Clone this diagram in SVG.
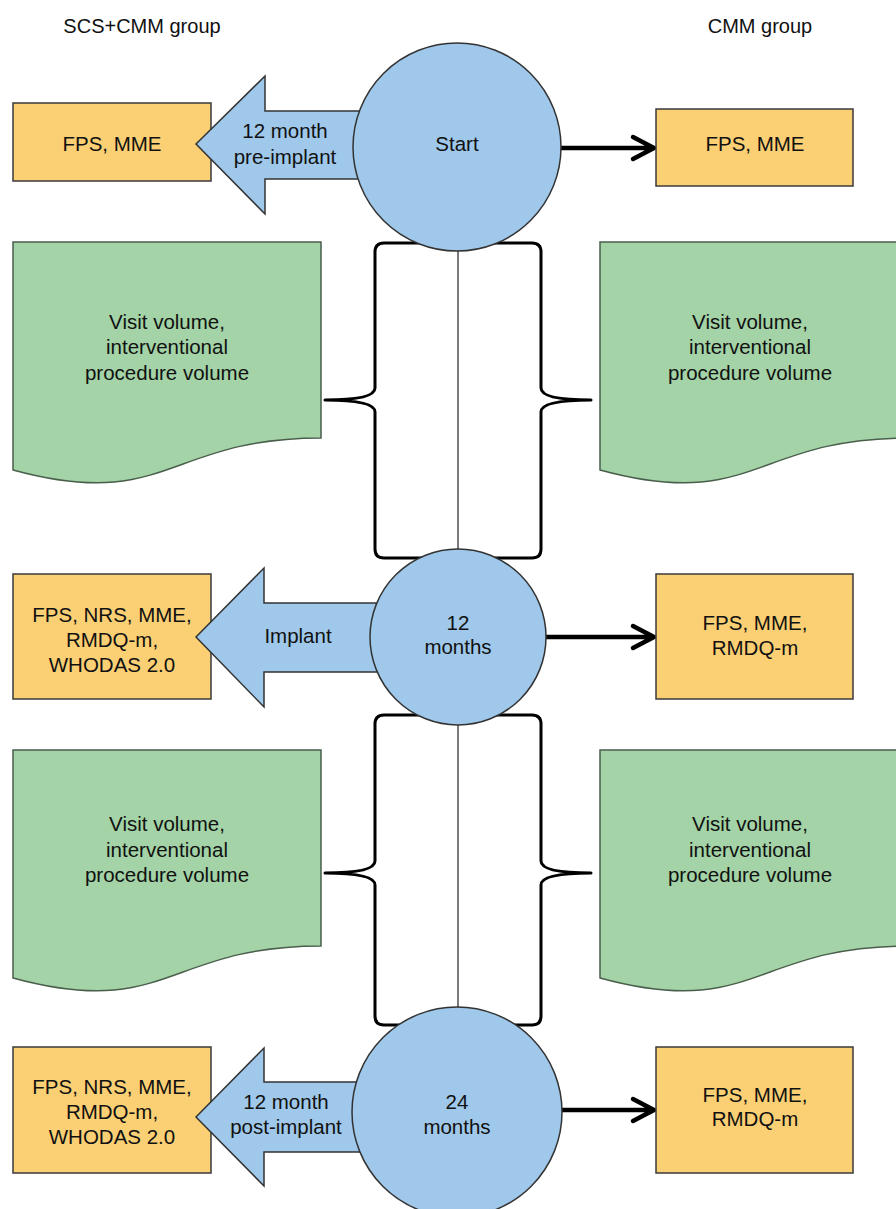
<svg xmlns="http://www.w3.org/2000/svg" width="896" height="1209" viewBox="0 0 896 1209">
<style>
text{font-family:"Liberation Sans",Arial,sans-serif;font-size:20.5px;fill:#111;text-anchor:middle}
.hdr{font-size:20px}
.box{fill:#FBD074;stroke:#3a3a3a;stroke-width:1.5}
.doc{fill:#A3D3A6;stroke:#4a5e4c;stroke-width:1.5}
.blue{fill:#9FC8EA;stroke:#333;stroke-width:1.5}
.brace{fill:none;stroke:#000;stroke-width:3;stroke-linejoin:round}
.axis{stroke:#333;stroke-width:1.3}
.conn{stroke:#000;stroke-width:4.5;fill:none;stroke-linecap:round;stroke-linejoin:round}
</style>
<defs>
<path id="docL" d="M13,242 H321 V438 C167,438 167,512 13,470 Z"/>
</defs>
<rect width="896" height="1209" fill="#fff"/>
<g id="headers">
<text class="hdr" x="142" y="33">SCS+CMM group</text>
<text class="hdr" x="760" y="33">CMM group</text>
</g>
<g id="connectors">
<line class="axis" x1="458" y1="250" x2="458" y2="550"/>
<line class="axis" x1="458" y1="724" x2="458" y2="1008"/>
<path class="brace" d="M425,243 H384 Q375,243 375,252 V388 Q375,400 325,400 Q375,400 375,412 V549 Q375,558 384,558 H425"/>
<path class="brace" d="M491,243 H532 Q541,243 541,252 V388 Q541,400 591,400 Q541,400 541,412 V549 Q541,558 532,558 H491"/>
<path class="brace" d="M425,715 H384 Q375,715 375,724 V861 Q375,873 325,873 Q375,873 375,885 V1016 Q375,1025 384,1025 H425"/>
<path class="brace" d="M491,715 H532 Q541,715 541,724 V861 Q541,873 591,873 Q541,873 541,885 V1016 Q541,1025 532,1025 H491"/>
<path class="conn" d="M560,148 H653 M633,137 L654,148 L633,159"/>
<path class="conn" d="M544,637 H653 M633,626 L654,637 L633,648"/>
<path class="conn" d="M560,1110 H653 M633,1099 L654,1110 L633,1121"/>
</g>
<g id="left1">
<rect class="box" x="13" y="103" width="198" height="78"/>
<text x="112" y="151">FPS, MME</text>
</g>
<g id="right1">
<rect class="box" x="656" y="109" width="197" height="77"/>
<text x="755" y="151">FPS, MME</text>
</g>
<g id="left2">
<rect class="box" x="13" y="574" width="198" height="125"/>
<text x="112" y="622">FPS, NRS, MME,</text>
<text x="112" y="647">RMDQ-m,</text>
<text x="112" y="672">WHODAS 2.0</text>
</g>
<g id="right2">
<rect class="box" x="656" y="574" width="197" height="125"/>
<text x="755" y="630">FPS, MME,</text>
<text x="755" y="655">RMDQ-m</text>
</g>
<g id="left3">
<rect class="box" x="13" y="1047" width="198" height="126"/>
<text x="112" y="1094">FPS, NRS, MME,</text>
<text x="112" y="1119">RMDQ-m,</text>
<text x="112" y="1144">WHODAS 2.0</text>
</g>
<g id="right3">
<rect class="box" x="656" y="1047" width="197" height="126"/>
<text x="755" y="1102">FPS, MME,</text>
<text x="755" y="1126">RMDQ-m</text>
</g>
<g id="arrow1">
<polygon class="blue" points="196,144 265,76 265,111 372,111 372,179 265,179 265,214"/>
<text x="285" y="138">12 month</text>
<text x="285" y="164">pre-implant</text>
</g>
<g id="arrow2">
<polygon class="blue" points="196,637 264,568 264,603 390,603 390,672 264,672 264,707"/>
<text x="298" y="643">Implant</text>
</g>
<g id="arrow3">
<polygon class="blue" points="196,1117 264,1048 264,1082 372,1082 372,1152 264,1152 264,1186"/>
<text x="286" y="1109">12 month</text>
<text x="286" y="1134">post-implant</text>
</g>
<g id="start">
<circle class="blue" cx="457" cy="147" r="104"/>
<text x="457" y="151">Start</text>
</g>
<g id="m12">
<circle class="blue" cx="458" cy="637" r="88"/>
<text x="458" y="630">12</text>
<text x="458" y="654">months</text>
</g>
<g id="m24">
<circle class="blue" cx="457" cy="1112" r="105"/>
<text x="457" y="1109">24</text>
<text x="457" y="1134">months</text>
</g>
<g id="docL1">
<use href="#docL" class="doc"/>
<text x="167" y="329">Visit volume,</text>
<text x="167" y="354">interventional</text>
<text x="167" y="380">procedure volume</text>
</g>
<g id="docR1">
<use href="#docL" class="doc" x="587"/>
<text x="750" y="329">Visit volume,</text>
<text x="750" y="354">interventional</text>
<text x="750" y="380">procedure volume</text>
</g>
<g id="docL2">
<use href="#docL" class="doc" y="508"/>
<text x="167" y="831">Visit volume,</text>
<text x="167" y="857">interventional</text>
<text x="167" y="882">procedure volume</text>
</g>
<g id="docR2">
<use href="#docL" class="doc" x="587" y="508"/>
<text x="750" y="831">Visit volume,</text>
<text x="750" y="857">interventional</text>
<text x="750" y="882">procedure volume</text>
</g>
</svg>
